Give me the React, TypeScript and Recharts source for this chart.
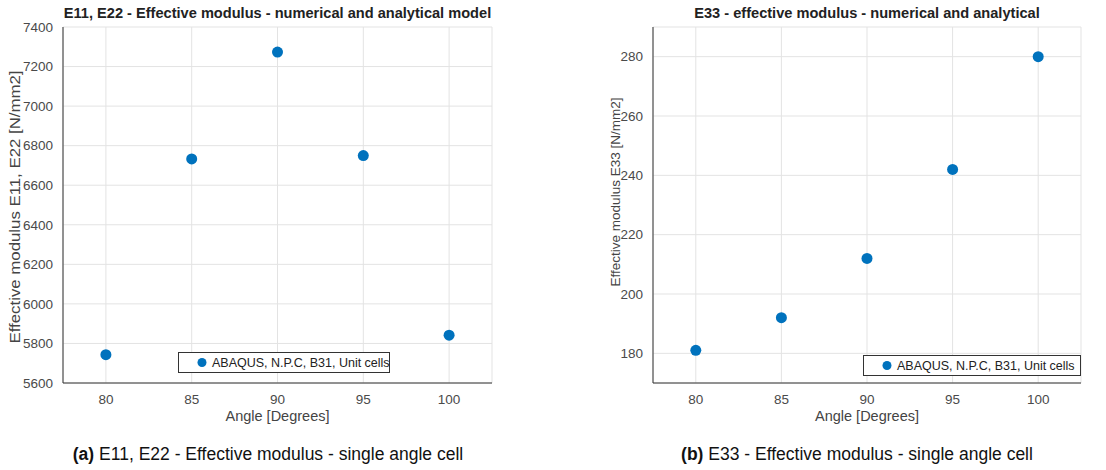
import React from 'react';
import { ScatterChart, Scatter, XAxis, YAxis, CartesianGrid, Legend } from 'recharts';

const angles = [80, 85, 90, 95, 100];
const e11Values = [5743, 6733, 7273, 6750, 5842];
const e33Values = [181, 192, 212, 242, 280];
const angleTicks = [80, 85, 90, 95, 100];
const e11Ticks = [5600, 5800, 6000, 6200, 6400, 6600, 6800, 7000, 7200, 7400];
const e33Ticks = [180, 200, 220, 240, 260, 280];
const seriesName = 'ABAQUS, N.P.C, B31, Unit cells';

const FONT = '"Liberation Sans", Arial, Helvetica, sans-serif';
const BLUE = '#0072BD';

const dot = (props: any) => <circle cx={props.cx} cy={props.cy} r={5.5} fill={BLUE} />;

type PanelProps = {
  values: number[];
  yTicks: number[];
  yDomain: [number, number];
  title: string;
  yLabel: string;
  yLabelX: number;
  yLabelY: number;
  yLabelSize: number;
  yLabelStretch: number;
  left: number;
  plotLeft: number;
  plotRight: number;
  legendLeft: number;
  legendTop: number;
  legendWidth: number;
  captionBold: string;
  caption: string;
  captionCenter: number;
};

const W = 553;
const H = 470;
const TOP = 27;
const BOTTOM = 383;

function Panel(p: PanelProps) {
  const data = angles.map((a, i) => ({ angle: a, value: p.values[i] }));
  const plotCenter = (p.plotLeft + p.plotRight) / 2;
  return (
    <div style={{ position: 'absolute', left: p.left, top: 0, width: W, height: H }}>
      <ScatterChart
        width={W}
        height={H}
        margin={{ top: TOP, right: W - p.plotRight, bottom: H - BOTTOM - 30, left: 0 }}
      >
        <CartesianGrid stroke="#e3e3e3" strokeWidth={1} />
        <XAxis
          type="number"
          dataKey="angle"
          domain={[77.5, 102.5]}
          ticks={angleTicks}
          height={30}
          tickLine={false}
          axisLine={{ stroke: '#333', strokeWidth: 1 }}
          tick={{ fill: '#4a4a4a', fontSize: 13.5, fontFamily: FONT }}
          tickMargin={5}
          allowDataOverflow
        />
        <YAxis
          type="number"
          dataKey="value"
          domain={p.yDomain}
          ticks={p.yTicks}
          width={p.plotLeft}
          tickLine={false}
          axisLine={{ stroke: '#333', strokeWidth: 1 }}
          tick={{ fill: '#4a4a4a', fontSize: 13.5, fontFamily: FONT }}
          tickMargin={4}
          allowDataOverflow
        />
        <Legend
          verticalAlign="middle"
          align="center"
          wrapperStyle={{ position: 'absolute', left: p.legendLeft, top: p.legendTop, width: p.legendWidth, margin: 0 }}
          content={() => (
            <div
              style={{
                boxSizing: 'border-box',
                width: p.legendWidth,
                height: 21,
                border: '1px solid #333',
                background: '#fff',
                display: 'flex',
                alignItems: 'center',
                fontFamily: FONT,
                fontSize: 12.5,
                color: '#222',
                whiteSpace: 'nowrap',
              }}
            >
              <svg width={33} height={19} style={{ flex: 'none' }}>
                <circle cx={23} cy={9.5} r={4.5} fill={BLUE} />
              </svg>
              <span>{seriesName}</span>
            </div>
          )}
        />
        <Scatter name={seriesName} data={data} fill={BLUE} shape={dot} isAnimationActive={false} />
      </ScatterChart>
      <div
        style={{
          position: 'absolute',
          left: plotCenter,
          top: 5,
          transform: 'translateX(-50%)',
          whiteSpace: 'nowrap',
          fontFamily: FONT,
          fontWeight: 'bold',
          fontSize: 14.6,
          color: '#222',
        }}
      >
        {p.title}
      </div>
      <div
        style={{
          position: 'absolute',
          left: plotCenter,
          top: 408,
          transform: 'translateX(-50%)',
          whiteSpace: 'nowrap',
          fontFamily: FONT,
          fontSize: 14.5,
          color: '#444',
        }}
      >
        Angle [Degrees]
      </div>
      <div
        style={{
          position: 'absolute',
          left: p.yLabelX,
          top: p.yLabelY,
          transform: `translate(-50%, -50%) rotate(-90deg) scaleX(${p.yLabelStretch})`,
          whiteSpace: 'nowrap',
          fontFamily: FONT,
          fontSize: p.yLabelSize,
          lineHeight: 1,
          color: '#444',
        }}
      >
        {p.yLabel}
      </div>
      <div
        style={{
          position: 'absolute',
          left: p.captionCenter,
          top: 444,
          transform: 'translateX(-50%)',
          whiteSpace: 'nowrap',
          fontFamily: FONT,
          fontSize: 17.5,
          color: '#111',
        }}
      >
        <b>{p.captionBold}</b> {p.caption}
      </div>
    </div>
  );
}

export default function App() {
  return (
    <div style={{ position: 'absolute', left: 0, top: 0, width: 1106, height: 470, background: '#fff', overflow: 'hidden' }}>
      <Panel
        values={e11Values}
        yTicks={e11Ticks}
        yDomain={[5600, 7400]}
        title="E11, E22 - Effective modulus - numerical and analytical model"
        yLabel="Effective modulus E11, E22 [N/mm2]"
        yLabelX={15}
        yLabelY={207}
        yLabelSize={14}
        yLabelStretch={1.2}
        left={0}
        plotLeft={63}
        plotRight={492}
        legendLeft={178}
        legendTop={352}
        legendWidth={212}
        captionBold="(a)"
        caption="E11, E22 - Effective modulus - single angle cell"
        captionCenter={268}
      />
      <Panel
        values={e33Values}
        yTicks={e33Ticks}
        yDomain={[170, 290]}
        title="E33 - effective modulus - numerical and analytical"
        yLabel="Effective modulus E33 [N/mm2]"
        yLabelX={63}
        yLabelY={192}
        yLabelSize={13.5}
        yLabelStretch={1}
        left={553}
        plotLeft={100}
        plotRight={528}
        legendLeft={310}
        legendTop={355}
        legendWidth={218}
        captionBold="(b)"
        caption="E33 - Effective modulus - single angle cell"
        captionCenter={304}
      />
    </div>
  );
}
